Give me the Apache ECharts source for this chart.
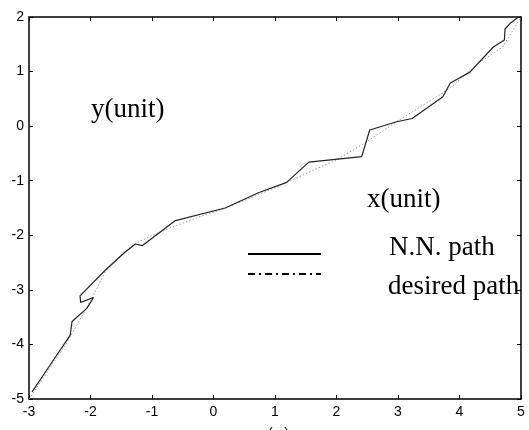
<!DOCTYPE html>
<html>
<head>
<meta charset="utf-8">
<script src="https://cdn.jsdelivr.net/npm/echarts@6/dist/echarts.min.js"></script>
<style>
  html, body { margin: 0; padding: 0; background: #fff; }
  #chart { width: 529px; height: 430px; }
</style>
</head>
<body>
<div id="chart"></div>
<script>
// Trajectory followed by the neural-network controller, [x, y]
const nnPath = [
  [-2.95, -4.87], [-2.7, -4.45], [-2.33, -3.83], [-2.30, -3.58], [-2.06, -3.34],
  [-1.95, -3.14], [-2.16, -3.23], [-2.17, -3.11], [-1.76, -2.64], [-1.45, -2.32],
  [-1.27, -2.16], [-1.16, -2.19], [-0.62, -1.73], [0.19, -1.50], [0.73, -1.22],
  [1.19, -1.03], [1.55, -0.66], [2.41, -0.56], [2.54, -0.07], [2.98, 0.08],
  [3.23, 0.14], [3.73, 0.54], [3.85, 0.79], [4.17, 0.99], [4.55, 1.45],
  [4.73, 1.58], [4.74, 1.78], [4.82, 1.88], [4.96, 2.0]
];

// Reference trajectory, [x, y]
const desiredPath = [
  [-3.0, -5.0], [-2.7, -4.5], [-2.4, -4.0], [-2.2, -3.6], [-2.0, -3.2],
  [-1.75, -2.65], [-1.5, -2.35], [-1.27, -2.15], [-1.0, -2.0], [-0.6, -1.82],
  [-0.2, -1.65], [0.2, -1.5], [0.7, -1.27], [1.2, -1.03], [1.6, -0.82],
  [2.0, -0.62], [2.5, -0.28], [3.0, 0.1], [3.5, 0.45], [3.85, 0.7],
  [4.3, 1.15], [4.7, 1.45], [5.0, 2.0]
];

const xTicks = { min: -3, max: 5, step: 1 };
const yTicks = { min: -5, max: 2, step: 1 };

const serif = "'Liberation Serif', 'Times New Roman', serif";
const sans = "'Liberation Sans', Arial, sans-serif";

const boxLine = { show: true, onZero: false, lineStyle: { color: '#000', width: 1.5 } };
const inTick = { show: true, inside: true, length: 4, lineStyle: { color: '#000', width: 1 } };

const chart = echarts.init(document.getElementById('chart'), null, { renderer: 'canvas' });

chart.setOption({
  animation: false,
  backgroundColor: '#fff',
  grid: { left: 29, right: 8, top: 17, bottom: 31, containLabel: false, outerBoundsMode: 'none' },
  xAxis: [
    {
      type: 'value', position: 'bottom',
      min: xTicks.min, max: xTicks.max, interval: xTicks.step,
      axisLine: boxLine, axisTick: inTick, splitLine: { show: false },
      axisLabel: { color: '#000', fontFamily: sans, fontSize: 14, margin: 6 },
      name: 'x(m)', nameLocation: 'middle', nameGap: 28,
      nameTextStyle: { color: '#000', fontFamily: sans, fontSize: 14, verticalAlign: 'top' }
    },
    {
      type: 'value', position: 'top',
      min: xTicks.min, max: xTicks.max, interval: xTicks.step,
      axisLine: boxLine, axisTick: inTick, splitLine: { show: false },
      axisLabel: { show: false }
    }
  ],
  yAxis: [
    {
      type: 'value', position: 'left',
      min: yTicks.min, max: yTicks.max, interval: yTicks.step,
      axisLine: boxLine, axisTick: inTick, splitLine: { show: false },
      axisLabel: { color: '#000', fontFamily: sans, fontSize: 14, margin: 5 }
    },
    {
      type: 'value', position: 'right',
      min: yTicks.min, max: yTicks.max, interval: yTicks.step,
      axisLine: boxLine, axisTick: inTick, splitLine: { show: false },
      axisLabel: { show: false }
    }
  ],
  series: [
    {
      name: 'desired path', type: 'line', data: desiredPath,
      showSymbol: false, silent: true, z: 2,
      lineStyle: { color: '#999', width: 1, type: [1.5, 2] }
    },
    {
      name: 'N.N. path', type: 'line', data: nnPath,
      showSymbol: false, silent: true, z: 3,
      lineStyle: { color: '#222', width: 1.2 }
    }
  ],
  graphic: [
    { type: 'text', left: 91, top: 96,
      style: { text: 'y(unit)', font: '27px ' + serif, fill: '#000' } },
    { type: 'text', left: 367, top: 186,
      style: { text: 'x(unit)', font: '27px ' + serif, fill: '#000' } },
    { type: 'text', left: 389, top: 234,
      style: { text: 'N.N. path', font: '27px ' + serif, fill: '#000' } },
    { type: 'text', left: 388, top: 273,
      style: { text: 'desired path', font: '27px ' + serif, fill: '#000' } },
    // legend samples
    { type: 'line', shape: { x1: 248, y1: 254, x2: 321, y2: 254 },
      style: { stroke: '#000', lineWidth: 2 } },
    { type: 'line', shape: { x1: 248, y1: 274, x2: 321, y2: 274 },
      style: { stroke: '#000', lineWidth: 2, lineDash: [7, 4, 2, 4] } }
  ]
});
</script>
</body>
</html>
